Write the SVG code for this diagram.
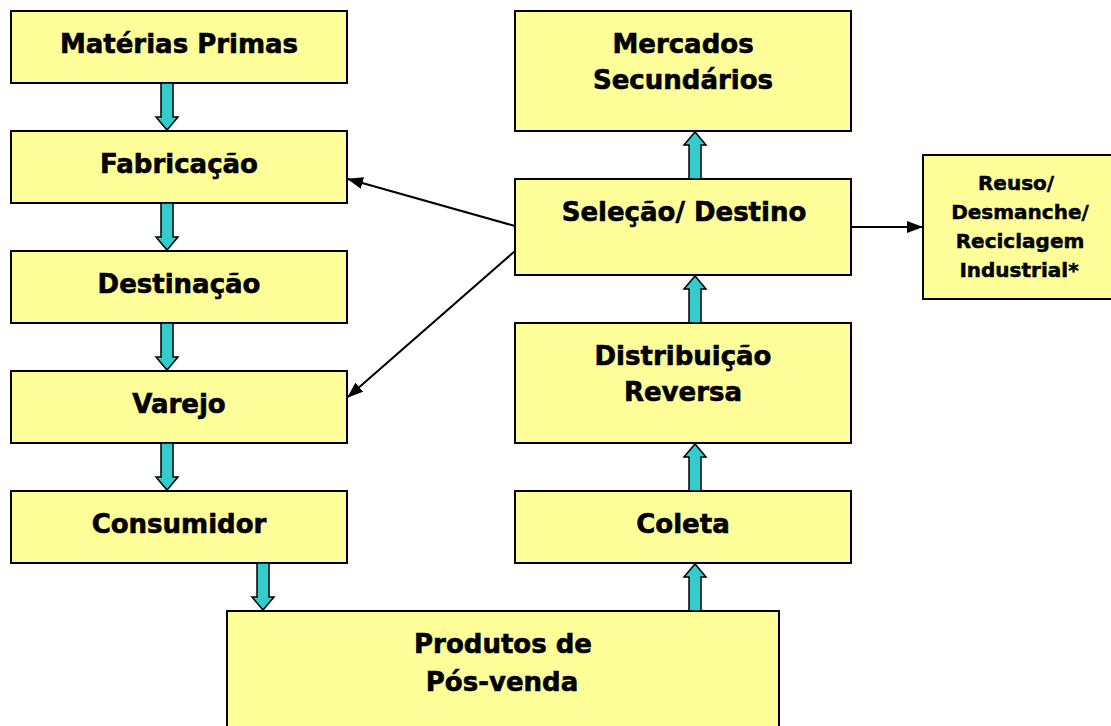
<svg xmlns="http://www.w3.org/2000/svg" width="1111" height="726" viewBox="0 0 1111 726">
<style>
.box{fill:#FFFF99;stroke:#000;stroke-width:2}
.t{font-family:"DejaVu Sans",Verdana,sans-serif;font-weight:bold;font-size:26px;text-anchor:middle;fill:#000;stroke:#000;stroke-width:0.6}
.s{font-size:20px;stroke-width:0.5}
.ba{fill:#33CCCC;stroke:#000;stroke-width:1.5}
.ln{stroke:#000;stroke-width:2;fill:none;marker-end:url(#ah)}
</style>
<defs>
<marker id="ah" markerWidth="16" markerHeight="12" refX="15" refY="6" orient="auto" markerUnits="userSpaceOnUse" viewBox="0 0 16 12">
<path d="M0,0 L16,6 L0,12 Z" fill="#000"/>
</marker>
<path id="down" d="M-6,0 H6 V34 H11 L0,47 L-11,34 H-6 Z"/>
<path id="up" d="M-6,0 H6 V-34 H11 L0,-47 L-11,-34 H-6 Z"/>
</defs>
<rect width="1111" height="726" fill="#fff"/>
<g id="n1"><rect class="box" x="11" y="11" width="336" height="72"/><text class="t" x="179" y="53">Matérias Primas</text></g>
<g id="n2"><rect class="box" x="11" y="131" width="336" height="72"/><text class="t" x="179" y="173">Fabricação</text></g>
<g id="n3"><rect class="box" x="11" y="251" width="336" height="72"/><text class="t" x="179" y="293">Destinação</text></g>
<g id="n4"><rect class="box" x="11" y="371" width="336" height="72"/><text class="t" x="179" y="413">Varejo</text></g>
<g id="n5"><rect class="box" x="11" y="491" width="336" height="72"/><text class="t" x="179" y="533">Consumidor</text></g>
<g id="n6"><rect class="box" x="227" y="611" width="552" height="125"/><text class="t" x="503" y="653">Produtos de</text><text class="t" x="502" y="691">Pós-venda</text></g>
<g id="n7"><rect class="box" x="515" y="11" width="336" height="120"/><text class="t" x="683" y="53">Mercados</text><text class="t" x="683" y="89">Secundários</text></g>
<g id="n8"><rect class="box" x="515" y="179" width="336" height="96"/><text class="t" x="684" y="221">Seleção/ Destino</text></g>
<g id="n9"><rect class="box" x="515" y="323" width="336" height="120"/><text class="t" x="683" y="365">Distribuição</text><text class="t" x="683" y="401">Reversa</text></g>
<g id="n10"><rect class="box" x="515" y="491" width="336" height="72"/><text class="t" x="683" y="533">Coleta</text></g>
<g id="n11"><rect class="box" x="923" y="155" width="196" height="144"/><text class="t s" x="1016" y="190">Reuso/</text><text class="t s" x="1020" y="219">Desmanche/</text><text class="t s" x="1020" y="248">Reciclagem</text><text class="t s" x="1019" y="277">Industrial*</text></g>
<g id="connectors">
<use href="#down" class="ba" x="167" y="83"/>
<use href="#down" class="ba" x="167" y="203"/>
<use href="#down" class="ba" x="167" y="323"/>
<use href="#down" class="ba" x="167" y="443"/>
<use href="#down" class="ba" x="263" y="563"/>
<use href="#up" class="ba" x="695" y="611"/>
<use href="#up" class="ba" x="695" y="491"/>
<use href="#up" class="ba" x="695" y="323"/>
<use href="#up" class="ba" x="695" y="179"/>
<line class="ln" x1="515" y1="226" x2="348" y2="179"/>
<line class="ln" x1="515" y1="251" x2="348" y2="397"/>
<line class="ln" x1="851" y1="227" x2="922" y2="227"/>
</g>
</svg>
